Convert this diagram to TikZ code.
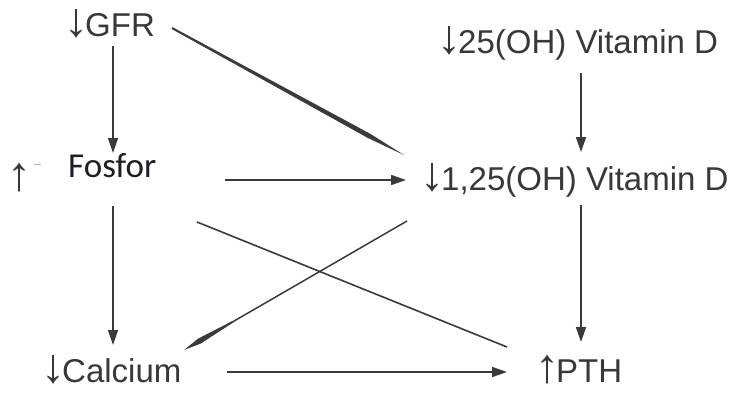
\documentclass[tikz,border=0pt]{standalone}
\usepackage{fontspec}
\setmainfont{Liberation Sans}
\newfontfamily\fosforfont{Carlito}
\usetikzlibrary{arrows.meta,calc}

\definecolor{txt}{HTML}{383838}
\definecolor{ink}{HTML}{3A3A3A}
\definecolor{fostxt}{HTML}{1E1E26}

% arrow glyphs set large, standing on the baseline, side bearings trimmed
\newcommand{\dn}{\kern-4pt{\fontsize{48}{48}\selectfont ↓}\kern-3pt}
\newcommand{\upa}{\kern-4pt{\fontsize{48}{48}\selectfont ↑}\kern-3pt}

\tikzset{
  label/.style={anchor=base west, inner sep=0pt, text=txt,
                font=\fontsize{33}{38}\selectfont},
  conn/.style={draw=ink, line width=1.6pt,
               -{Triangle[length=15pt,width=10pt]}},
  plain/.style={draw=ink, line width=1.6pt},
}

% tapered stroke from #1 to #2: begins at fraction #3 with half-width #4,
% swells to half-width #5 at fraction #6 and ends in a point at #2
\newcommand{\taperline}[6]{%
  \fill[ink] ($(#1)!#3!(#2)!#4!90:(#2)$)
    -- ($(#1)!#6!(#2)!#5!90:(#2)$)
    -- (#2)
    -- ($(#1)!#6!(#2)!#5!-90:(#2)$)
    -- ($(#1)!#3!(#2)!#4!-90:(#2)$) -- cycle;}

\begin{document}
\begin{tikzpicture}[x=1pt,y=-1pt]
  \useasboundingbox (0,0) rectangle (737,392);
  \fill[white] (0,0) rectangle (737,392);

  % labels
  \node[label] (gfr)  at (68,36)   {\dn GFR};
  \node[label] (vd25) at (441,53)  {\dn 25(OH) Vitamin D};
  \node[label] (up)   at (11,190)  {\upa};
  \node[label, text=fostxt, font=\fosforfont\fontsize{35}{40}\selectfont]
       (fos)  at (68,177)  {Fosfor};
  \node[label] (vd125) at (424,190) {\dn 1,25(OH) Vitamin D};
  \node[label] (ca)   at (45,382)  {\dn Calcium};
  \node[label] (pth)  at (539,382) {\upa PTH};

  % small stray mark beside the up arrow
  \draw[gray!60, line width=0.8pt] ([xshift=6pt,yshift=26pt]up.base east) -- ++(7,0);

  % end points of the connectors
  \coordinate (gfrS)  at (113,46);
  \coordinate (fosN)  at (113,153);
  \coordinate (fosS)  at (113,206);
  \coordinate (caN)   at (113,345);
  \coordinate (fosE)  at (225,180);
  \coordinate (vdW)   at (406,180);
  \coordinate (gfrE)  at (172,28);
  \coordinate (vdNW)  at (404,155);
  \coordinate (vd25S) at (581,73);
  \coordinate (vdN)   at (581,152);
  \coordinate (vdS)   at (581,205);
  \coordinate (pthN)  at (581,342);
  \coordinate (caE)   at (227,372);
  \coordinate (pthW)  at (507,372);
  \coordinate (fosSE) at (197,222);
  \coordinate (pthNW) at (507,347);
  \coordinate (vdSW)  at (407,221);
  \coordinate (caNE)  at (184,350);

  % straight arrows
  \draw[conn] (gfrS) -- (fosN);
  \draw[conn] (fosS) -- (caN);
  \draw[conn] (fosE) -- (vdW);
  \draw[conn] (vd25S) -- (vdN);
  \draw[conn] (vdS) -- (pthN);
  \draw[conn] (caE) -- (pthW);

  % crossing lines
  \draw[plain] (fosSE) -- (pthNW);
  \draw[plain, line width=1.5pt] (vdSW) -- ($(vdSW)!0.85!(caNE)$);
  \taperline{vdSW}{caNE}{0.78}{0.75pt}{2.8pt}{0.93}

  % GFR to 1,25(OH) Vitamin D
  \taperline{gfrE}{vdNW}{0}{1pt}{2.4pt}{0.85}
\end{tikzpicture}
\end{document}
